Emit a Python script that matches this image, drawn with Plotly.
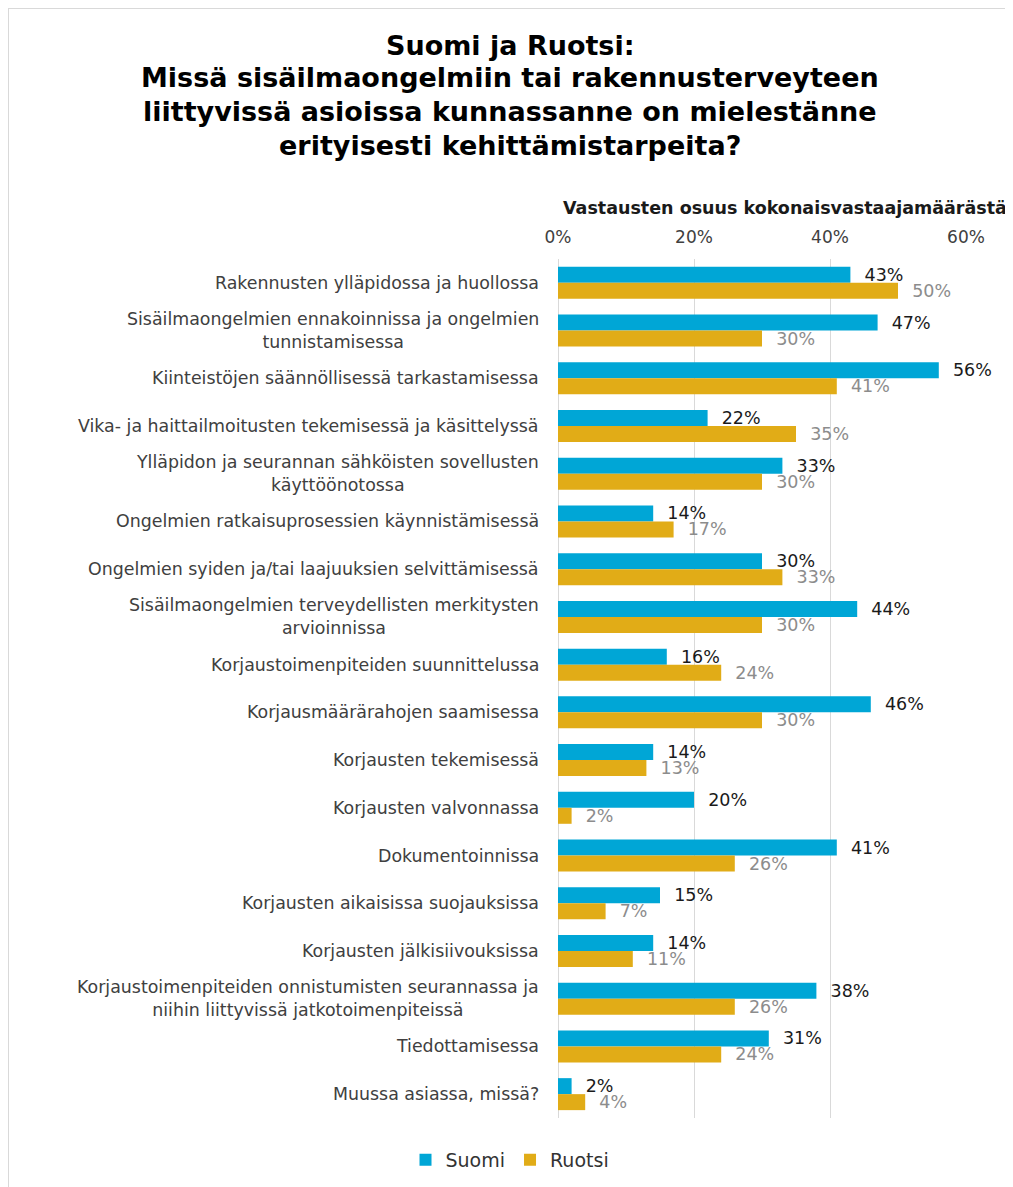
import plotly.graph_objects as go

categories = [
    "Rakennusten ylläpidossa ja huollossa",
    "Sisäilmaongelmien ennakoinnissa ja ongelmien<br>tunnistamisessa",
    "Kiinteistöjen säännöllisessä tarkastamisessa",
    "Vika- ja haittailmoitusten tekemisessä ja käsittelyssä",
    "Ylläpidon ja seurannan sähköisten sovellusten<br>käyttöönotossa",
    "Ongelmien ratkaisuprosessien käynnistämisessä",
    "Ongelmien syiden ja/tai laajuuksien selvittämisessä",
    "Sisäilmaongelmien terveydellisten merkitysten<br>arvioinnissa",
    "Korjaustoimenpiteiden suunnittelussa",
    "Korjausmäärärahojen saamisessa",
    "Korjausten tekemisessä",
    "Korjausten valvonnassa",
    "Dokumentoinnissa",
    "Korjausten aikaisissa suojauksissa",
    "Korjausten jälkisiivouksissa",
    "Korjaustoimenpiteiden onnistumisten seurannassa ja<br>niihin liittyvissä jatkotoimenpiteissä",
    "Tiedottamisessa",
    "Muussa asiassa, missä?",
]
suomi = [43, 47, 56, 22, 33, 14, 30, 44, 16, 46, 14, 20, 41, 15, 14, 38, 31, 2]
ruotsi = [50, 30, 41, 35, 30, 17, 33, 30, 24, 30, 13, 2, 26, 7, 11, 26, 24, 4]
tick_vals = [0, 0.2, 0.4, 0.6]
tick_text = ["0%", "20%", "40%", "60%"]
title_lines = [
    "Suomi ja Ruotsi:",
    "Missä sisäilmaongelmiin tai rakennusterveyteen",
    "liittyvissä asioissa kunnassanne on mielestänne",
    "erityisesti kehittämistarpeita?",
]
axis_title = "Vastausten osuus kokonaisvastaajamäärästä"

OFF = 8  # page body margin
W, H = 1013 - OFF, 1187 - OFF
# target positions in screenshot pixels
PL, PR, PT, PB = 558, 966, 259, 1118
ML, MR, MT, MB = PL - OFF, W - (PR - OFF), PT - OFF, H - (PB - OFF)
PW, PH = W - ML - MR, H - MT - MB


def py(ypx):
    return (PB - ypx) / PH


def px(xpx):
    return (xpx - PL) / PW


FONT = "DejaVu Sans"
BLUE = "#00A6D6"
GOLD = "#E1AC17"
NB = "\u00a0"

fig = go.Figure()
fig.add_trace(go.Bar(
    name="Suomi", y=categories, x=[v / 100 for v in suomi], orientation="h",
    marker=dict(color=BLUE, line=dict(width=0)),
    text=[NB + NB + f"{v}%" for v in suomi], textposition="outside",
    constraintext="none",
    textfont=dict(family=FONT, size=17.5, color="#1a1a1a"), cliponaxis=False,
))
fig.add_trace(go.Bar(
    name="Ruotsi", y=categories, x=[v / 100 for v in ruotsi], orientation="h",
    marker=dict(color=GOLD, line=dict(width=0)),
    text=[NB + NB + f"{v}%" for v in ruotsi], textposition="outside",
    constraintext="none",
    textfont=dict(family=FONT, size=17.5, color="#8c8c8c"), cliponaxis=False,
))

annotations = []
for c in categories:
    annotations.append(dict(
        x=0, xref="paper", y=c, yref="y", xanchor="right", yanchor="middle",
        xshift=-17, text=c, showarrow=False, align="center",
        font=dict(family=FONT, size=17.4, color="#404040"),
    ))
title_y = [45, 78, 111, 145]
for t, yy in zip(title_lines, title_y):
    annotations.append(dict(
        x=px(510), xref="paper", y=py(yy), yref="paper", xanchor="center",
        yanchor="middle", text="<b>" + t + "</b>", showarrow=False,
        font=dict(family=FONT, size=27, color="#000000"),
    ))
annotations.append(dict(
    x=px(785), xref="paper", y=py(208), yref="paper", xanchor="center",
    yanchor="middle", text="<b>" + axis_title + "</b>", showarrow=False,
    font=dict(family=FONT, size=17.5, color="#1a1a1a"),
))

fig.update_layout(
    width=W, height=H,
    margin=dict(l=ML, r=MR, t=MT, b=MB, autoexpand=False),
    paper_bgcolor="white", plot_bgcolor="white",
    barmode="group", bargap=0.33, bargroupgap=0,
    font=dict(family=FONT),
    showlegend=True,
    legend=dict(orientation="h", x=px(510), xanchor="center", y=py(1160),
                yanchor="middle", font=dict(family=FONT, size=19, color="#333333"),
                traceorder="normal"),
    annotations=annotations,
    shapes=[dict(type="rect", xref="paper", yref="paper",
                 x0=px(8), y0=py(1300), x1=px(1100), y1=py(8),
                 line=dict(color="#d9d9d9", width=2), layer="below")],
)
fig.update_xaxes(side="top", range=[0, 0.6], tickvals=tick_vals, ticktext=tick_text,
                 showgrid=True, gridcolor="#d9d9d9", gridwidth=1,
                 zeroline=True, zerolinecolor="#d9d9d9", zerolinewidth=1,
                 tickfont=dict(family=FONT, size=17, color="#404040"),
                 ticklabelstandoff=12,
                 ticks="", showline=False, fixedrange=True)
fig.update_yaxes(autorange="reversed", showticklabels=False, showgrid=False,
                 ticks="", showline=False)

fig.write_html("out.html")
